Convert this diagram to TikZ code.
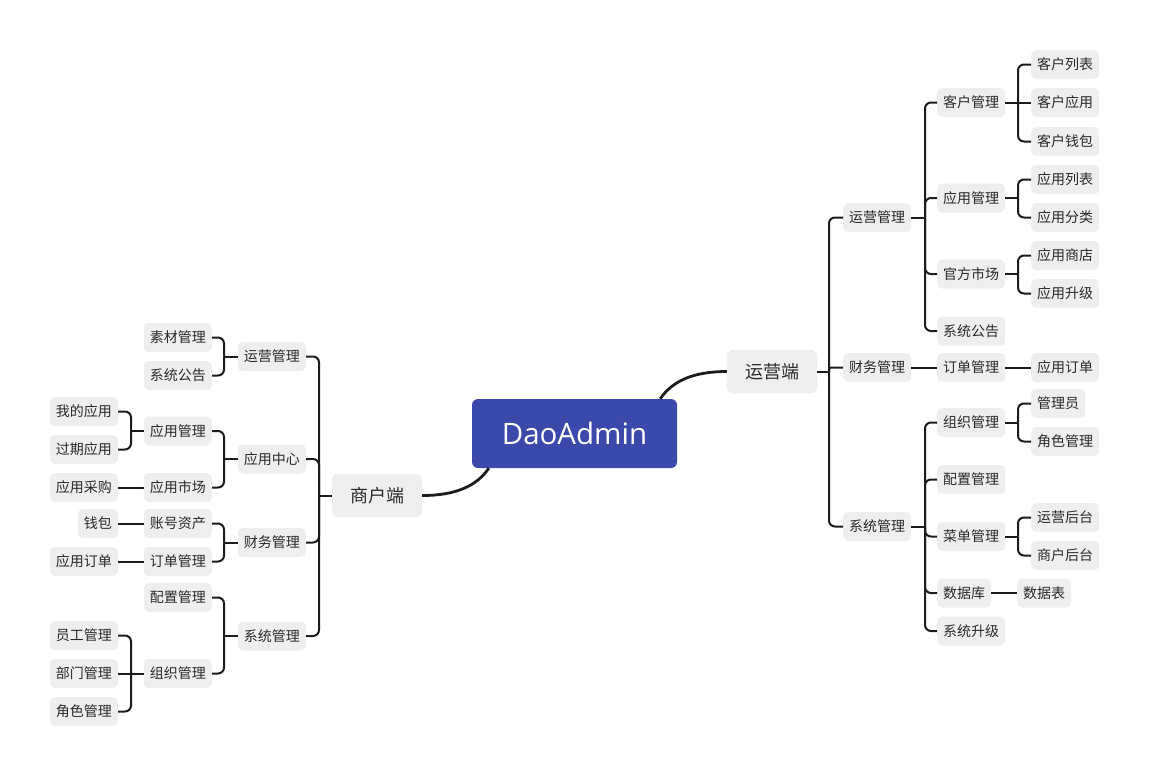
\documentclass[tikz,border=0pt]{standalone}
\usepackage{fontspec}
\setmainfont{Noto Sans CJK SC}
\newfontfamily\latinf{Open Sans}
\definecolor{boxgray}{HTML}{EEEEEE}
\definecolor{txt}{HTML}{2A2A2A}
\definecolor{linec}{HTML}{1C1C1C}
\definecolor{rootblue}{HTML}{3A49AA}
\tikzset{
  box/.style={fill=boxgray, rounded corners=5pt, text=txt, inner sep=0pt, inner xsep=6pt,
    minimum height=29pt, font=\fontsize{14pt}{16pt}\selectfont},
  topbox/.style={fill=boxgray, rounded corners=6pt, text=txt, inner sep=0pt,
    minimum width=90pt, minimum height=43pt, font=\fontsize{18pt}{20pt}\selectfont},
  rootbox/.style={fill=rootblue, rounded corners=6pt, text=white, inner sep=0pt,
    minimum width=205pt, minimum height=69pt, font=\latinf\fontsize{29.5pt}{31pt}\selectfont},
  conn/.style={line width=2pt, draw=linec},
  rb/.style={box, anchor=west},
  lb/.style={box, anchor=east},
}
\newcommand\edgeR[3]{\draw[conn] (#1.east) -- (#1.east -| #2);\draw[conn,rounded corners=6pt] (#1.east -| #2) |- (#3.west);}
\newcommand\edgeL[3]{\draw[conn] (#1.west) -- (#1.west -| #2);\draw[conn,rounded corners=6pt] (#1.west -| #2) |- (#3.east);}
\newcommand\edgeRs[2]{\draw[conn] (#1.east) -- (#2.west);}
\newcommand\edgeLs[2]{\draw[conn] (#1.west) -- (#2.east);}
\begin{document}
\begin{tikzpicture}[x=1pt,y=-1pt]
\useasboundingbox[fill=white] (0,0) rectangle (1149,777);
% root and top level
\node[rootbox] (root) at (574.5,433.5) {DaoAdmin};
\node[topbox] (ry) at (772,371.5) {运营端};
\node[topbox] (sh) at (377,495.5) {商户端};
% spines
\coordinate (sRa) at (829,0);
\coordinate (sRb) at (925,0);
\coordinate (sRc) at (1018,0);
\coordinate (sLa) at (319,0);
\coordinate (sLb) at (224,0);
\coordinate (sLc) at (131,0);
% right level 2
\node[rb] (rYY) at (843,217.5) {运营管理};
\node[rb] (rCW) at (843,367.5) {财务管理};
\node[rb] (rXT) at (843,526.5) {系统管理};
% right level 3
\node[rb] (rKH) at (937,102.5) {客户管理};
\node[rb] (rYG) at (937,198) {应用管理};
\node[rb] (rGF) at (937,274) {官方市场};
\node[rb] (rXG) at (937,331) {系统公告};
\node[rb] (rDD) at (937,367.5) {订单管理};
\node[rb] (rZZ) at (937,422.5) {组织管理};
\node[rb] (rPZ) at (937,479.5) {配置管理};
\node[rb] (rCD) at (937,536.5) {菜单管理};
\node[rb] (rSJ) at (937,593) {数据库};
\node[rb] (rSX) at (937,631) {系统升级};
% right level 4
\node[rb] (rKL) at (1031,64.5) {客户列表};
\node[rb] (rKY) at (1031,102.5) {客户应用};
\node[rb] (rKQ) at (1031,141.5) {客户钱包};
\node[rb] (rYL) at (1031,179.5) {应用列表};
\node[rb] (rYF) at (1031,217.5) {应用分类};
\node[rb] (rYS) at (1031,255.5) {应用商店};
\node[rb] (rYU) at (1031,293.5) {应用升级};
\node[rb] (rYD) at (1031,367.5) {应用订单};
\node[rb] (rGL) at (1031,403.5) {管理员};
\node[rb] (rJS) at (1031,441.5) {角色管理};
\node[rb] (rYH) at (1031,517.5) {运营后台};
\node[rb] (rSH) at (1031,555.5) {商户后台};
\node[rb] (rSB) at (1017,593) {数据表};
% left level 2
\node[lb] (lYY) at (306,356.5) {运营管理};
\node[lb] (lYZ) at (306,459) {应用中心};
\node[lb] (lCW) at (306,542.5) {财务管理};
\node[lb] (lXT) at (306,636) {系统管理};
% left level 3
\node[lb] (lSC) at (212,337.5) {素材管理};
\node[lb] (lXG) at (212,375.5) {系统公告};
\node[lb] (lYG) at (212,431) {应用管理};
\node[lb] (lSS) at (212,487.5) {应用市场};
\node[lb] (lZH) at (212,523.5) {账号资产};
\node[lb] (lDD) at (212,561.5) {订单管理};
\node[lb] (lPZ) at (212,597.5) {配置管理};
\node[lb] (lZZ) at (212,673.5) {组织管理};
% left level 4
\node[lb] (lWD) at (118,411.5) {我的应用};
\node[lb] (lGQ) at (118,449.5) {过期应用};
\node[lb] (lCG) at (118,487.5) {应用采购};
\node[lb] (lQB) at (118,523.5) {钱包};
\node[lb] (lYD) at (118,561.5) {应用订单};
\node[lb] (lYE) at (118,635.5) {员工管理};
\node[lb] (lBM) at (118,673.5) {部门管理};
\node[lb] (lJS) at (118,711.5) {角色管理};
% root curves
\draw[conn,line width=2.8pt] ([xshift=-17pt]root.north east) .. controls (673,380) and (695,371.5) .. (ry.west);
\draw[conn,line width=2.8pt] ([xshift=17pt]root.south west) .. controls (476,487) and (454,495.5) .. (sh.east);
% right edges
\edgeR{ry}{sRa}{rYY}
\draw[conn,rounded corners=2pt] (ry.east -| sRa) |- (rCW.west);
\edgeR{ry}{sRa}{rXT}
\edgeR{rYY}{sRb}{rKH}
\edgeR{rYY}{sRb}{rYG}
\edgeR{rYY}{sRb}{rGF}
\edgeR{rYY}{sRb}{rXG}
\edgeRs{rCW}{rDD}
\edgeR{rXT}{sRb}{rZZ}
\edgeR{rXT}{sRb}{rPZ}
\edgeR{rXT}{sRb}{rCD}
\edgeR{rXT}{sRb}{rSJ}
\edgeR{rXT}{sRb}{rSX}
\edgeR{rKH}{sRc}{rKL}
\edgeRs{rKH}{rKY}
\edgeR{rKH}{sRc}{rKQ}
\edgeR{rYG}{sRc}{rYL}
\edgeR{rYG}{sRc}{rYF}
\edgeR{rGF}{sRc}{rYS}
\edgeR{rGF}{sRc}{rYU}
\edgeRs{rDD}{rYD}
\edgeR{rZZ}{sRc}{rGL}
\edgeR{rZZ}{sRc}{rJS}
\edgeR{rCD}{sRc}{rYH}
\edgeR{rCD}{sRc}{rSH}
\edgeRs{rSJ}{rSB}
% left edges
\edgeL{sh}{sLa}{lYY}
\edgeL{sh}{sLa}{lYZ}
\edgeL{sh}{sLa}{lCW}
\edgeL{sh}{sLa}{lXT}
\edgeL{lYY}{sLb}{lSC}
\edgeL{lYY}{sLb}{lXG}
\edgeL{lYZ}{sLb}{lYG}
\edgeL{lYZ}{sLb}{lSS}
\edgeL{lCW}{sLb}{lZH}
\edgeL{lCW}{sLb}{lDD}
\edgeL{lXT}{sLb}{lPZ}
\edgeL{lXT}{sLb}{lZZ}
\edgeL{lYG}{sLc}{lWD}
\edgeL{lYG}{sLc}{lGQ}
\edgeLs{lSS}{lCG}
\edgeLs{lZH}{lQB}
\edgeLs{lDD}{lYD}
\edgeL{lZZ}{sLc}{lYE}
\edgeLs{lZZ}{lBM}
\edgeL{lZZ}{sLc}{lJS}
\end{tikzpicture}
\end{document}
